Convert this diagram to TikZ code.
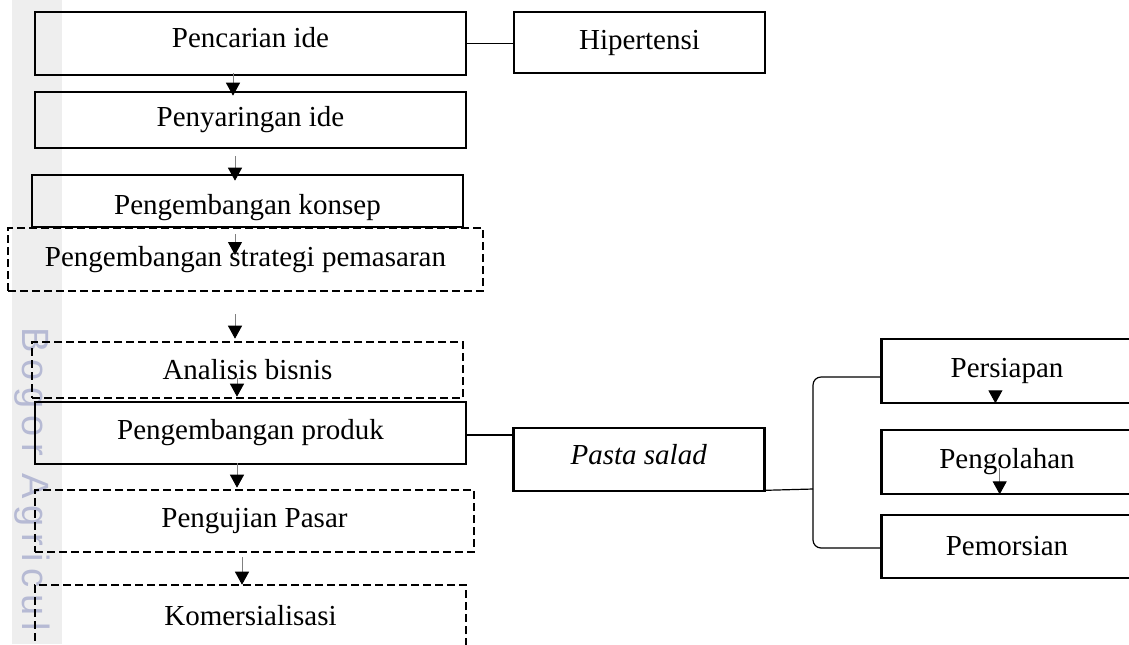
\documentclass[tikz,border=0pt]{standalone}
\usepackage{fontspec}
\setmainfont{Liberation Serif}
\newfontfamily\wmfont[LetterSpace=18]{Liberation Sans}
\usepackage{xcolor}
\usetikzlibrary{arrows.meta, positioning, calc}

\definecolor{strip}{RGB}{238,238,238}
\definecolor{wmark}{RGB}{182,186,212}

\begin{document}
\begin{tikzpicture}[
    x=0.5pt, y=-0.5pt,
    every node/.style={font=\fontsize{14.5}{17}\selectfont, inner sep=0pt},
    stage/.style={rectangle, draw, line width=1.3pt, align=center},
    plan/.style={stage, dash pattern=on 4pt off 2pt},
    part/.style={stage, minimum width=125.5pt},
    arrow/.style={-{Triangle[length=6.5pt, width=7pt, color=black]}, draw=gray, line width=0.5pt},
    link/.style={draw=black, line width=0.6pt}
]
\useasboundingbox (0,0) rectangle (1129,644);
\clip (0,0) rectangle (1129,644);

% watermark strip
\fill[strip] (12,0) rectangle (62,644);
\node[rotate=-90, anchor=west, text=wmark, font=\wmfont\fontsize{19}{21}\selectfont] (mark) at (32,327) {Bogor Agricul};

% main stages
\node[stage, minimum width=215.5pt, minimum height=31.5pt, text depth=6.5pt] (cari) at (250.5,43.5) {Pencarian ide};
\node[stage, minimum width=125.5pt, minimum height=30.5pt] (hiper) at (639.5,42.5) {Hipertensi};
\node[stage, minimum width=215.5pt, minimum height=28pt] (saring) at (250.5,120) {Penyaringan ide};
\node[stage, minimum width=215.5pt, minimum height=26pt, text height=17pt] (konsep) at (247.5,201) {Pengembangan konsep};
\node[plan, minimum width=237.5pt, minimum height=31.5pt] (strategi) at (245.5,259.5) {Pengembangan strategi pemasaran};
\node[plan, minimum width=215.5pt, minimum height=28pt] (bisnis) at (247.5,370) {Analisis bisnis};
\node[stage, minimum width=215.5pt, minimum height=31pt] (produk) at (250.5,433) {Pengembangan produk};
\node[plan, minimum width=219.5pt, minimum height=31pt] (pasar) at (254.5,521) {Pengujian Pasar};
\node[plan, minimum width=215.5pt, minimum height=31pt] (komersial) at (250.5,616) {Komersialisasi};

% product branch
\node[stage, minimum width=125.5pt, minimum height=31.5pt, text depth=5pt, font=\fontsize{14.5}{17}\selectfont\itshape] (pasta) at (638.7,459.5) {Pasta salad};
\node[part, minimum height=32pt] (siap) at (1007,371) {Persiapan};
\node[part, minimum height=32pt] (olah) at (1007,462) {Pengolahan};
\node[part, minimum height=31.5pt] (porsi) at (1007,546.5) {Pemorsian};

\coordinate (brk) at (813,489);

% Arrows
\draw[arrow] ($(cari.south)+(-17.5,-3)$) -- ($(saring.north)+(-17.5,5)$);
\draw[arrow] ($(saring.south)+(-15.5,7)$) -- ($(konsep.north)+(-12.5,7)$);
\draw[arrow] ($(konsep.south)+(-12.5,6)$) -- ($(strategi.center)+(-10.5,-4.5)$);
\draw[arrow] ($(strategi.south)+(-10.5,22)$) -- ($(bisnis.north)+(-12.5,-2)$);
\draw[arrow] ($(bisnis.center)+(-10.5,8)$) -- ($(produk.north)+(-13.5,-4)$);
\draw[arrow] ($(produk.south)+(-13.5,-2)$) -- ($(pasar.north)+(-17.5,-1)$);
\draw[arrow] ($(pasar.south)+(-12.5,4)$) -- ($(komersial.north)+(-8.5,1)$);
\draw[arrow] ($(siap.south)+(-11.6,-13)$) -- ($(siap.south)+(-11.6,-1)$);
\draw[arrow] ($(olah.south)+(-7.3,-27)$) -- ($(olah.south)+(-7.3,-1)$);

% Links
\draw[link] (cari.east) -- (cari.east -| hiper.west);
\draw[link] ($(produk.east)+(0,2)$) -- ($(produk.east -| pasta.west)+(0,2)$);
\draw[link] ($(pasta.south east)+(0,-2)$) -- (brk);
\draw[link, rounded corners=4pt] ($(siap.west)+(0,6)$) -| (brk) |- ($(porsi.west)+(0,1.5)$);

\end{tikzpicture}
\end{document}
